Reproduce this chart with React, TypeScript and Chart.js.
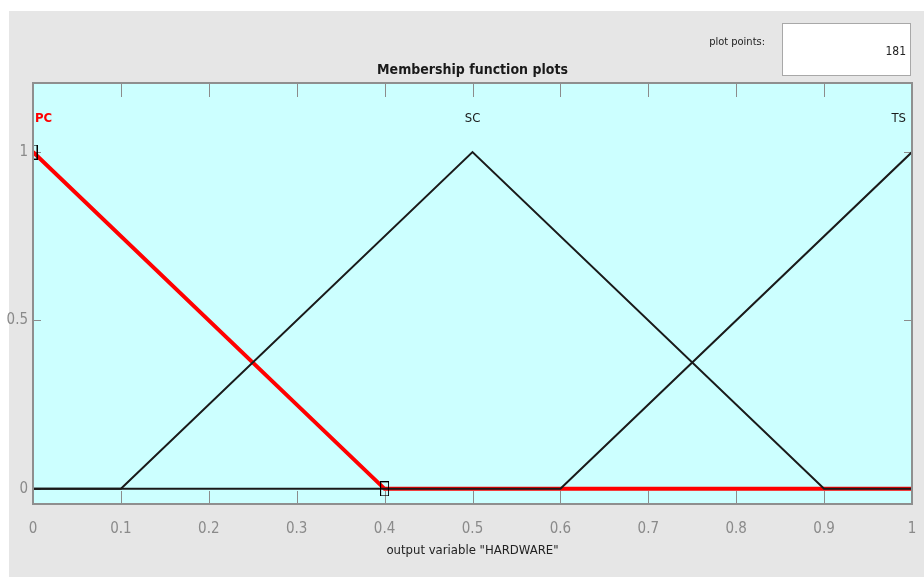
import React, { useEffect, useRef } from "react";
import { Chart, registerables } from "chart.js";

Chart.register(...registerables);

// ---- data ----
const pcX = [0, 0.4, 1];
const pcY = [1, 0, 0];
const scX = [0, 0.1, 0.5, 0.9, 1];
const scY = [0, 0, 1, 0, 0];
const tsX = [0, 0.6, 1];
const tsY = [0, 0, 1];
const markerX = [0, 0.4];
const markerY = [1, 0];
const mfNames = ["PC", "SC", "TS"];
const mfPeaks = [0, 0.5, 1];
const xTickValues = [0, 0.1, 0.2, 0.3, 0.4, 0.5, 0.6, 0.7, 0.8, 0.9, 1];
const yTickValues = [0, 0.5, 1];
const titleText = "Membership function plots";
const xAxisLabel = 'output variable "HARDWARE"';
const plotPointsLabel = "plot points:";
const plotPointsValue = "181";

const FONT = '"Liberation Sans Narrow", "DejaVu Sans Condensed", "Arial Narrow", sans-serif';

const toPts = (xs: number[], ys: number[]) => xs.map((x, i) => ({ x, y: ys[i] }));

function makeRectMarker() {
  const c = document.createElement("canvas");
  c.width = 9;
  c.height = 15;
  const g = c.getContext("2d")!;
  g.strokeStyle = "#000";
  g.lineWidth = 1;
  g.strokeRect(0.5, 0.5, 8, 14);
  return c;
}

const decorPlugin = {
  id: "decor",
  beforeDraw(chart: any) {
    const { ctx, chartArea: a } = chart;
    ctx.save();
    ctx.fillStyle = "#ffffff";
    ctx.fillRect(0, 0, chart.width, chart.height);
    ctx.fillStyle = "#e6e6e6";
    ctx.fillRect(9, 11, chart.width - 9, chart.height - 11);
    ctx.fillStyle = "#ccffff";
    ctx.fillRect(a.left, a.top, a.right - a.left, a.bottom - a.top);

    // input box
    ctx.fillStyle = "#ffffff";
    ctx.fillRect(782, 23, 129, 53);
    ctx.strokeStyle = "#a8a8a8";
    ctx.lineWidth = 1;
    ctx.strokeRect(782.5, 23.5, 128, 52);
    ctx.fillStyle = "#222";
    ctx.font = `12px ${FONT}`;
    ctx.textAlign = "right";
    ctx.textBaseline = "middle";
    ctx.fillText(plotPointsValue, 906, 52);
    ctx.font = `11px ${FONT}`;
    ctx.fillText(plotPointsLabel, 765, 42);

    // title
    ctx.font = `bold 14px ${FONT}`;
    ctx.textAlign = "center";
    ctx.fillStyle = "#1a1a1a";
    ctx.fillText(titleText, (a.left + a.right) / 2, 70);

    // x axis label
    ctx.font = `13px ${FONT}`;
    ctx.fillStyle = "#222";
    ctx.fillText(xAxisLabel, (a.left + a.right) / 2, 551);
    ctx.restore();
  },
  beforeDatasetsDraw(chart: any) {
    const { ctx, chartArea: a, scales } = chart;
    const xs = scales.x;
    const ys = scales.y;
    ctx.save();
    ctx.strokeStyle = "#8c8c8c";
    ctx.lineWidth = 1;
    ctx.beginPath();
    xTickValues.forEach((v) => {
      const px = Math.round(xs.getPixelForValue(v)) + 0.5;
      ctx.moveTo(px, a.top);
      ctx.lineTo(px, a.top + 14);
      ctx.moveTo(px, a.bottom);
      ctx.lineTo(px, a.bottom - 13);
    });
    yTickValues.forEach((v) => {
      const py = Math.round(ys.getPixelForValue(v)) + 0.5;
      ctx.moveTo(a.left, py);
      ctx.lineTo(a.left + 8, py);
      ctx.moveTo(a.right, py);
      ctx.lineTo(a.right - 8, py);
    });
    ctx.stroke();

    // membership function names
    ctx.textBaseline = "middle";
    const ly = ys.getPixelForValue(1.1);
    mfNames.forEach((n, i) => {
      const p = mfPeaks[i];
      let px = xs.getPixelForValue(p);
      if (p <= xs.min) {
        ctx.textAlign = "left";
        px += 2;
      } else if (p >= xs.max) {
        ctx.textAlign = "right";
        px -= 6;
      } else {
        ctx.textAlign = "center";
      }
      ctx.fillStyle = i === 0 ? "#ff0000" : "#1a1a1a";
      ctx.font = i === 0 ? `bold 13px ${FONT}` : `13px ${FONT}`;
      ctx.fillText(n, px, ly);
    });
    ctx.restore();
  },
  afterDraw(chart: any) {
    const { ctx, chartArea: a } = chart;
    ctx.save();
    ctx.strokeStyle = "#8f8f8f";
    ctx.lineWidth = 2;
    ctx.strokeRect(a.left, a.top, a.right - a.left, a.bottom - a.top);
    ctx.restore();
  },
};

export default function App() {
  const ref = useRef<HTMLCanvasElement | null>(null);
  useEffect(() => {
    if (!ref.current) return;
    const marker = makeRectMarker();
    const chart = new Chart(ref.current, {
      type: "line",
      data: {
        datasets: [
          {
            data: toPts(markerX, markerY),
            showLine: false,
            pointStyle: marker as any,
            pointRadius: 5,
            borderColor: "#000",
            backgroundColor: "transparent",
          },
          {
            data: toPts(scX, scY),
            borderColor: "#1a1a1a",
            borderWidth: 2,
            pointRadius: 0,
            tension: 0,
          },
          {
            data: toPts(tsX, tsY),
            borderColor: "#1a1a1a",
            borderWidth: 2,
            pointRadius: 0,
            tension: 0,
          },
          {
            data: toPts(pcX, pcY),
            borderColor: "#ff0000",
            borderWidth: 4,
            pointRadius: 0,
            tension: 0,
          },
        ],
      },
      options: {
        animation: false,
        responsive: false,
        maintainAspectRatio: false,
        events: [],
        layout: { padding: { left: 0, top: 83, right: 12, bottom: 0 } },
        plugins: { legend: { display: false }, tooltip: { enabled: false }, title: { display: false } },
        scales: {
          x: {
            type: "linear",
            min: 0,
            max: 1,
            grid: { display: false, drawTicks: false },
            border: { display: false },
            afterBuildTicks: (s: any) => {
              s.ticks = xTickValues.map((v) => ({ value: v }));
            },
            afterFit: (s: any) => {
              s.height = 73;
              s.paddingLeft = 0;
              s.paddingRight = 0;
            },
            ticks: {
              autoSkip: false,
              maxRotation: 0,
              padding: 16,
              color: "#8a8a8a",
              font: { family: FONT, size: 15 },
              callback: (v: any) => String(Math.round(Number(v) * 10) / 10),
            },
          },
          y: {
            type: "linear",
            min: -0.045,
            max: 1.205,
            grid: { display: false, drawTicks: false },
            border: { display: false },
            afterBuildTicks: (s: any) => {
              s.ticks = yTickValues.map((v) => ({ value: v }));
            },
            afterFit: (s: any) => {
              s.width = 33;
              s.paddingTop = 0;
              s.paddingBottom = 0;
            },
            ticks: {
              padding: 5,
              color: "#8a8a8a",
              font: { family: FONT, size: 15 },
              callback: (v: any) => String(v),
            },
          },
        },
      },
      plugins: [decorPlugin],
    });
    return () => chart.destroy();
  }, []);
  return (
    <div style={{ position: "absolute", left: 0, top: 0, width: 924, height: 577 }}>
      <canvas ref={ref} width={924} height={577} style={{ display: "block", width: 924, height: 577 }} />
    </div>
  );
}
